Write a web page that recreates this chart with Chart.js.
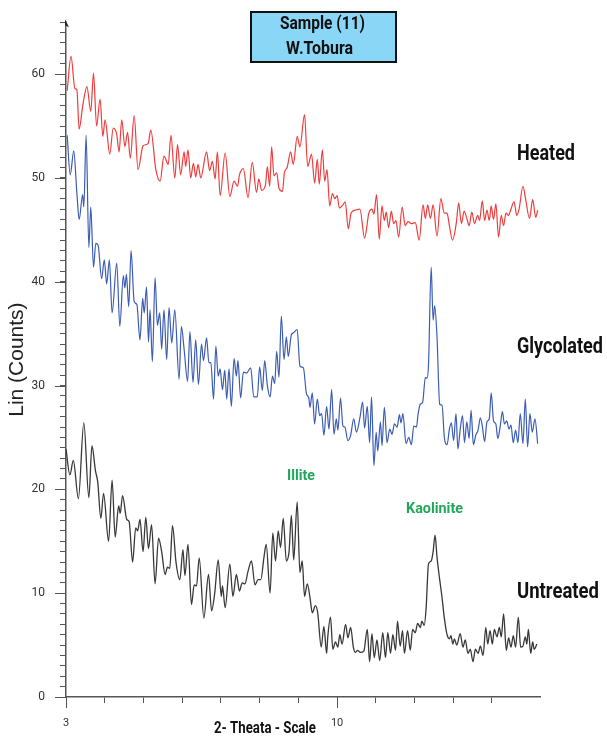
<!DOCTYPE html>
<html>
<head>
<meta charset="utf-8">
<title>Sample (11) W.Tobura</title>
<script src="https://cdn.jsdelivr.net/npm/chart.js@4.4.1/dist/chart.umd.min.js"></script>
<style>
  html, body { margin: 0; padding: 0; background: #fff; }
  canvas { display: block; }
</style>
</head>
<body>
<canvas id="xrdChart" width="607" height="737"></canvas>
<script>
const heatedTheta = [3.03,3.13,3.23,3.28,3.34,3.43,3.54,3.64,3.71,3.79,3.88,3.95,4.01,4.13,4.22,4.31,4.37,4.44,4.52,4.59,4.66,4.76,4.86,4.99,5.12,5.19,5.32,5.43,5.53,5.64,5.71,5.81,5.88,5.96,6.05,6.09,6.15,6.22,6.29,6.35,6.41,6.48,6.63,6.71,6.78,6.85,6.91,6.98,7.11,7.23,7.34,7.43,7.48,7.58,7.70,7.81,7.92,7.98,8.05,8.15,8.20,8.26,8.31,8.37,8.44,8.50,8.59,8.64,8.71,8.80,8.87,8.97,9.04,
  9.16,9.24,9.34,9.42,9.49,9.54,9.62,9.68,9.74,9.81,9.88,9.94,10.00,10.06,10.15,10.21,10.29,10.36,10.47,10.59,10.71,10.82,10.90,10.95,11.02,11.09,11.16,11.22,11.27,11.33,11.40,11.46,11.52,11.59,11.68,11.76,11.83,11.92,12.02,12.12,12.22,12.28,12.34,12.41,12.48,12.58,12.68,12.77,12.84,12.90,12.98,13.08,13.14,13.21,13.28,13.35,13.41,13.48,13.55,13.63,13.68,13.75,13.81,13.87,13.93,13.98,14.04,14.10,14.17,14.24,14.30,14.36,14.43,14.49,14.57,14.64,14.70,14.80,14.87,14.97,15.05,15.13,15.18];
const heatedCounts = [58.4,61.7,58.6,58.5,54.7,56.9,58.8,56.4,60.1,55.0,57.6,54.0,55.6,52.3,54.8,54.2,52.5,55.6,53.0,54.4,51.9,56.0,50.8,53.1,53.3,54.6,50.8,49.7,52.1,51.3,54.1,50.0,53.2,50.3,52.5,51.1,52.7,50.0,51.4,50.1,51.3,50.0,52.5,50.7,51.6,49.9,52.5,48.3,52.4,48.2,49.7,49.2,50.3,50.9,48.1,51.5,48.6,49.9,48.8,49.3,51.1,49.2,53.0,50.2,50.5,49.0,48.7,50.5,51.0,52.5,51.3,54.0,53.0,
  56.1,51.1,52.3,49.5,51.8,49.4,52.7,49.7,50.8,47.3,48.5,48.0,48.3,47.1,47.4,47.7,45.1,46.6,46.9,47.0,44.2,46.6,47.0,46.5,48.4,44.1,47.3,45.9,46.7,45.2,46.8,45.6,45.9,44.3,47.2,45.4,45.8,45.6,45.7,44.0,47.4,46.1,47.4,46.1,47.4,44.4,48.0,46.6,46.6,45.4,44.0,45.7,47.6,45.6,46.8,46.1,45.4,46.7,45.6,46.4,45.9,47.8,45.9,46.9,45.9,47.3,46.0,47.5,44.3,46.4,45.4,46.6,46.4,47.0,47.7,46.4,47.0,49.2,47.9,46.1,47.9,46.2,46.9];

const glycolatedTheta = [3.03,3.11,3.20,3.28,3.34,3.43,3.46,3.52,3.59,3.64,3.71,3.77,3.83,3.92,3.99,4.05,4.12,4.19,4.31,4.39,4.48,4.52,4.56,4.62,4.68,4.76,4.83,4.91,4.98,5.02,5.08,5.13,5.17,5.23,5.30,5.36,5.42,5.47,5.53,5.60,5.66,5.73,5.81,5.92,5.98,6.05,6.14,6.20,6.28,6.35,6.42,6.50,6.55,6.63,6.69,6.74,6.81,6.87,6.93,6.98,7.04,7.10,7.15,7.21,7.27,7.34,7.40,7.44,7.51,7.58,7.66,7.77,7.85,7.94,8.00,8.07,8.13,8.20,8.27,8.33,8.39,8.44,8.50,8.56,8.63,8.69,8.74,8.82,8.88,8.97,9.04,9.13,
  9.21,9.27,9.30,9.36,9.42,9.49,9.55,9.60,9.66,9.73,9.79,9.86,9.92,9.98,10.02,10.09,10.15,10.20,10.28,10.35,10.43,10.50,10.59,10.66,10.71,10.78,10.84,10.89,10.95,11.01,11.05,11.12,11.16,11.22,11.29,11.36,11.42,11.48,11.55,11.61,11.65,11.70,11.78,11.85,11.92,11.98,12.05,12.09,12.15,12.21,12.28,12.32,12.36,12.43,12.48,12.52,12.58,12.65,12.71,12.77,12.84,12.90,12.95,13.01,13.07,13.12,13.18,13.24,13.29,13.35,13.41,13.46,13.52,13.58,13.64,13.70,13.75,13.81,13.87,13.93,13.98,14.04,14.10,14.15,14.21,14.27,14.32,14.38,14.44,14.49,14.55,14.61,14.67,14.73,14.80,14.86,14.92,14.98,15.04,15.11,15.18];
const glycolatedCounts = [54.1,50.3,52.6,48.6,46.0,48.4,47.2,54.1,43.3,47.2,41.4,43.7,43.5,40.3,42.1,39.8,42.1,37.0,41.8,35.7,40.6,39.4,40.7,37.6,43.0,38.1,37.8,34.4,38.4,37.0,39.5,34.2,37.3,32.3,40.4,35.8,37.0,33.5,37.3,32.5,37.5,34.1,37.3,30.6,35.7,33.5,30.4,35.2,30.3,34.4,30.1,34.0,32.4,34.6,32.2,32.2,28.7,33.8,30.9,31.6,29.6,31.5,28.7,31.6,28.0,32.6,30.9,32.4,28.8,31.3,31.2,31.7,28.9,28.9,31.8,29.5,32.4,30.0,28.9,30.9,30.2,33.3,30.8,36.7,32.5,34.7,32.8,34.9,35.1,35.4,31.9,31.7,
  29.2,28.8,27.9,29.3,26.3,28.7,27.1,27.3,25.2,28.0,25.8,29.6,25.3,26.8,25.7,28.8,26.1,26.0,24.7,25.2,26.8,25.5,26.9,28.4,25.9,28.0,24.5,28.9,22.3,25.5,23.7,26.5,24.2,27.9,24.5,25.8,25.3,26.3,26.0,27.2,26.4,27.3,24.4,25.0,24.3,26.1,26.0,27.2,28.2,28.4,30.8,30.7,31.9,41.4,36.3,37.7,34.7,28.2,28.1,25.0,24.3,25.8,26.4,24.7,27.3,23.9,25.8,27.1,24.5,26.5,24.9,27.6,24.3,25.2,25.7,26.9,26.1,24.6,26.5,26.8,29.3,26.6,26.3,24.9,26.0,27.5,26.3,26.6,25.8,26.2,24.5,25.7,24.5,27.3,24.4,28.7,24.1,27.3,25.5,26.8,24.4];

const untreatedTheta = [3.00,3.10,3.19,3.32,3.46,3.59,3.67,3.76,3.82,3.90,3.97,4.10,4.19,4.27,4.36,4.40,4.46,4.57,4.63,4.72,4.80,4.85,4.91,4.99,5.06,5.13,5.21,5.30,5.39,5.47,5.56,5.62,5.68,5.75,5.84,5.94,6.02,6.07,6.15,6.24,6.31,6.37,6.44,6.56,6.68,6.76,6.84,6.93,7.01,7.04,7.11,7.23,7.31,7.40,7.48,7.55,7.62,7.70,7.79,7.88,7.96,8.03,8.11,8.17,8.27,8.34,8.41,8.48,8.54,8.61,8.69,8.76,8.82,8.88,8.97,9.04,9.10,
  9.16,9.23,9.30,9.36,9.44,9.50,9.59,9.66,9.73,9.76,9.83,9.89,9.96,10.02,10.07,10.13,10.22,10.28,10.35,10.42,10.47,10.53,10.60,10.69,10.78,10.84,10.90,10.96,11.03,11.10,11.18,11.25,11.31,11.38,11.44,11.51,11.56,11.63,11.69,11.74,11.82,11.89,11.95,12.02,12.08,12.15,12.19,12.25,12.30,12.36,12.43,12.48,12.53,12.58,12.65,12.71,12.77,12.84,12.90,12.94,12.99,13.03,13.09,13.18,13.25,13.31,13.38,13.44,13.51,13.57,13.64,13.70,13.77,13.84,13.89,13.95,14.01,14.06,14.13,14.19,14.24,14.30,14.37,14.43,14.49,14.55,14.61,14.68,14.74,14.80,14.86,14.90,14.94,15.00,15.05,15.09,15.16];
const untreatedCounts = [23.9,21.4,22.8,19.1,26.4,19.2,24.2,21.8,20.7,17.2,19.6,15.0,20.9,15.4,18.4,17.7,19.4,17.1,16.9,13.0,16.3,16.0,17.1,14.0,17.3,14.3,16.6,10.9,15.3,14.0,11.8,12.5,12.4,16.5,13.0,11.3,14.2,11.7,14.7,8.9,10.8,10.7,13.4,7.6,11.8,8.3,10.0,13.2,9.7,10.7,8.6,12.8,9.7,11.8,10.2,11.0,10.9,12.1,13.1,10.8,11.3,11.3,13.4,14.7,10.0,15.8,13.1,16.0,14.4,17.2,13.1,14.0,17.5,13.2,18.8,12.0,13.1,
  9.7,10.9,9.6,8.1,8.8,8.1,4.8,6.8,4.2,5.8,7.7,4.6,5.3,4.8,6.0,5.1,7.0,5.7,6.7,4.8,4.3,4.5,4.3,4.4,6.5,3.4,6.1,3.8,5.5,3.5,6.2,3.8,6.2,4.2,6.0,4.5,7.3,4.9,6.4,4.2,6.4,4.5,6.5,6.2,7.1,6.7,7.3,6.9,8.6,12.8,13.1,14.0,15.6,13.5,11.3,9.6,7.6,6.0,5.6,5.9,5.1,5.6,5.0,6.1,4.8,5.5,4.2,4.6,3.4,4.6,4.2,4.9,4.0,6.7,5.1,6.4,5.1,6.5,5.8,6.7,5.8,8.0,4.5,5.7,4.8,5.9,4.8,7.7,4.8,4.9,5.8,5.1,6.5,4.2,5.3,4.6,5.1];

const xTickLabels = [3, 10];
const yTickLabels = [0, 10, 20, 30, 40, 50, 60];

const BOLD_FACE = "Roboto, 'Liberation Sans', sans-serif";
const AXIS_COLOR = '#555';

function toPoints(xs, ys) {
    return xs.map((x, i) => ({ x: x, y: ys[i] }));
}

// squeeze a bold label into the width it takes in the scan (condensed look)
function fitText(c, text, x, y, width, size, align) {
    c.font = 'bold ' + size + 'px ' + BOLD_FACE;
    const w = c.measureText(text).width;
    const k = Math.min(1, width / w);
    let x0 = x;
    if (align === 'center') x0 = x - width / 2;
    c.save();
    c.translate(x0, y);
    c.scale(k, 1);
    c.textAlign = 'left';
    c.textBaseline = 'middle';
    c.fillText(text, 0, 0);
    c.restore();
}

const decor = {
    id: 'decor',
    afterDraw(chart) {
        const c = chart.ctx;
        const xs = chart.scales.x;
        const ys = chart.scales.y;
        const left = chart.chartArea.left;
        const bottom = chart.chartArea.bottom;
        const top = chart.chartArea.top;

        c.save();
        // longer major ticks
        c.strokeStyle = AXIS_COLOR;
        c.lineWidth = 1;
        c.beginPath();
        yTickLabels.forEach(v => {
            const y = Math.round(ys.getPixelForValue(v)) + 0.5;
            c.moveTo(left - 11, y);
            c.lineTo(left, y);
        });
        xTickLabels.forEach(v => {
            const x = Math.round(xs.getPixelForValue(v)) + 0.5;
            c.moveTo(x, bottom);
            c.lineTo(x, bottom + 11);
        });
        c.stroke();

        // little arrow at top of y axis
        c.fillStyle = '#222';
        c.beginPath();
        c.moveTo(left - 1, top - 3);
        c.lineTo(left + 3, top + 5);
        c.lineTo(left - 1, top + 3);
        c.closePath();
        c.fill();

        // sample box
        c.fillStyle = '#8ad6f6';
        c.fillRect(251, 12, 145, 50);
        c.strokeStyle = '#111';
        c.lineWidth = 2;
        c.strokeRect(251, 12, 145, 50);
        c.fillStyle = '#111';
        fitText(c, 'Sample (11)', 322.5, 24, 85, 19, 'center');
        fitText(c, 'W.Tobura', 319.5, 49, 67, 18, 'center');

        // series names
        fitText(c, 'Heated', 517, 154, 58, 22, 'left');
        fitText(c, 'Glycolated', 517, 347, 86, 22, 'left');
        fitText(c, 'Untreated', 517, 592, 82, 22, 'left');

        // mineral peaks
        c.fillStyle = '#20a85a';
        fitText(c, 'Illite', 287, 476, 28, 15, 'left');
        fitText(c, 'Kaolinite', 434.5, 509, 57, 15, 'center');

        // x axis title
        c.fillStyle = '#111';
        fitText(c, '2- Theata - Scale', 265, 729, 102, 17, 'center');
        c.restore();
    }
};

const ctx = document.getElementById('xrdChart').getContext('2d');

const chart = new Chart(ctx, {
    type: 'line',
    data: {
        datasets: [{
            label: 'Heated',
            data: toPoints(heatedTheta, heatedCounts),
            borderColor: '#ee3d3d',
            borderWidth: 1.2
        }, {
            label: 'Glycolated',
            data: toPoints(glycolatedTheta, glycolatedCounts),
            borderColor: '#3b5cb3',
            borderWidth: 1.2
        }, {
            label: 'Untreated',
            data: toPoints(untreatedTheta, untreatedCounts),
            borderColor: '#383838',
            borderWidth: 1.3
        }]
    },
    options: {
        responsive: false,
        animation: false,
        devicePixelRatio: 1,
        layout: {
            padding: { top: 14, right: 67, left: 0, bottom: 0 }
        },
        elements: {
            point: { radius: 0 },
            line: { cubicInterpolationMode: 'monotone', fill: false }
        },
        plugins: {
            legend: { display: false },
            tooltip: { enabled: false }
        },
        scales: {
            x: {
                type: 'linear',
                min: 3,
                max: 15.24,
                grid: {
                    drawOnChartArea: false,
                    tickLength: 6,
                    tickColor: AXIS_COLOR
                },
                border: { color: AXIS_COLOR, width: 1.5 },
                ticks: {
                    stepSize: 1,
                    autoSkip: false,
                    maxRotation: 0,
                    padding: 14,
                    color: '#333',
                    font: { family: 'Roboto', size: 11 },
                    callback: v => xTickLabels.includes(v) ? String(v) : ''
                },
                afterBuildTicks: scale => {
                    scale.ticks = scale.ticks.filter(t => Number.isInteger(t.value));
                },
                afterFit: scale => { scale.height = 40; }
            },
            y: {
                min: 0,
                max: 65,
                grid: {
                    drawOnChartArea: false,
                    tickLength: 6,
                    tickColor: AXIS_COLOR
                },
                border: { color: AXIS_COLOR, width: 1.5 },
                ticks: {
                    stepSize: 1,
                    autoSkip: false,
                    padding: 15,
                    color: '#333',
                    font: { family: 'Roboto', size: 12 },
                    callback: v => yTickLabels.includes(v) ? String(v) : ''
                },
                title: {
                    display: true,
                    text: 'Lin (Counts)',
                    color: '#222',
                    font: { family: "'Liberation Sans', Arial, sans-serif", size: 21 },
                    padding: { top: 5, bottom: 0 }
                },
                afterFit: scale => { scale.width = 66; }
            }
        }
    },
    plugins: [decor]
});
</script>
</body>
</html>
